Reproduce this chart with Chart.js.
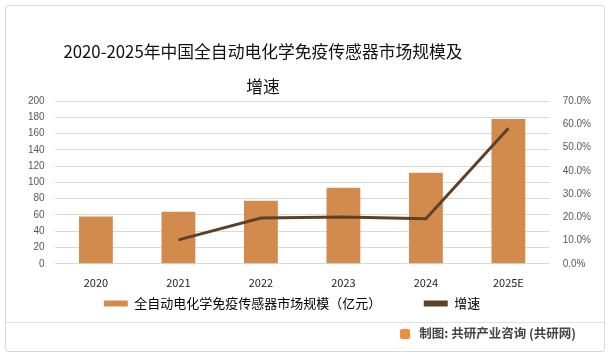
<!DOCTYPE html>
<html><head><meta charset="utf-8">
<script src="https://cdn.jsdelivr.net/npm/chart.js@4/dist/chart.umd.min.js"></script>
<style>
html,body{margin:0;padding:0;background:#fff;}
#wrap{position:relative;width:612px;height:357px;overflow:hidden;font-family:"Noto Sans CJK SC","Noto Sans",sans-serif;}
#frame{position:absolute;left:5px;top:5px;width:600px;height:347px;border:1px solid #d9d9d9;border-radius:3px;box-sizing:border-box;}
#title{position:absolute;left:13px;width:500px;top:34px;text-align:center;font-size:16.8px;line-height:35px;color:#111;}
#sep{position:absolute;left:6px;width:598px;top:322px;height:1px;background:#e3e3e3;}
#foot{position:absolute;right:36px;top:325px;font-size:12.5px;color:#444;font-weight:bold;line-height:16px;}
#logo{display:inline-block;width:10px;height:10px;background:#f08c3a;border-radius:2px;margin-right:9px;vertical-align:-1px;}
canvas{position:absolute;left:0;top:0;}
</style></head>
<body><div id="wrap">
<div id="frame"></div>
<canvas id="c" width="612" height="357"></canvas>
<div id="title">2020-2025年中国全自动电化学免疫传感器市场规模及<br>增速</div>
<div id="sep"></div>
<div id="foot"><span id="logo"></span>制图: 共研产业咨询 (共研网)</div>
</div>
<script>
const categories = ['2020','2021','2022','2023','2024','2025E'];
const marketSize = [58, 64, 77.5, 93.4, 111.8, 178];
const growthRate = [null, 10.3, 19.7, 20.1, 19.4, 58.3];
const seriesNames = ['全自动电化学免疫传感器市场规模（亿元）', '增速'];

const legendShift = {
  id: 'legendShift',
  afterLayout(chart) {
    const l = chart.legend;
    if (l) { l.left -= 19; l.right -= 19; l.top -= 6; l.bottom -= 6; }
  }
};

new Chart(document.getElementById('c'), {
  data: {
    labels: categories,
    datasets: [
      { type: 'bar', label: seriesNames[0], data: marketSize, yAxisID: 'y',
        backgroundColor: '#d38a4d', categoryPercentage: 0.41, barPercentage: 1.0, order: 1 },
      { type: 'line', label: seriesNames[1], data: growthRate, yAxisID: 'y1',
        borderColor: '#5e4129', backgroundColor: '#5e4129', borderWidth: 3,
        pointRadius: 0, tension: 0, order: 0 }
    ]
  },
  plugins: [legendShift],
  options: {
    responsive: false, animation: false, devicePixelRatio: 1,
    layout: { padding: { left: 18, right: 8, top: 101, bottom: 31 } },
    plugins: {
      title: { display: false },
      tooltip: { enabled: false },
      legend: { position: 'bottom',
        labels: { font: { size: 13, family: '"Noto Sans CJK SC"' }, color: '#222',
          boxWidth: 24, boxHeight: 6, padding: 10,
          generateLabels(chart) {
            return chart.data.datasets.map((d, i) => ({
              text: i === 0 ? d.label + '\u3000\u3000\u3000' : d.label,
              fillStyle: d.type === 'bar' ? d.backgroundColor : d.borderColor,
              strokeStyle: 'rgba(0,0,0,0)', lineWidth: 0, datasetIndex: i, hidden: false
            }));
          }
        } }
    },
    scales: {
      x: { grid: { display: false }, border: { display: false },
        ticks: { color: '#222', font: { size: 11, family: '"Noto Sans CJK SC"' }, padding: 4 } },
      y: { position: 'left', min: 0, max: 200, beginAtZero: true,
        ticks: { stepSize: 20, color: '#595959', font: { size: 10, family: '"Liberation Sans"' }, padding: 10 },
        grid: { color: '#d9d9d9', drawTicks: false }, border: { display: false } },
      y1: { position: 'right', min: 0, max: 70,
        ticks: { stepSize: 10, color: '#595959', font: { size: 10, family: '"Liberation Sans"' }, padding: 13,
          callback: v => v.toFixed(1) + '%' },
        grid: { display: false, drawTicks: false }, border: { display: false } }
    }
  }
});
</script>
</body></html>
